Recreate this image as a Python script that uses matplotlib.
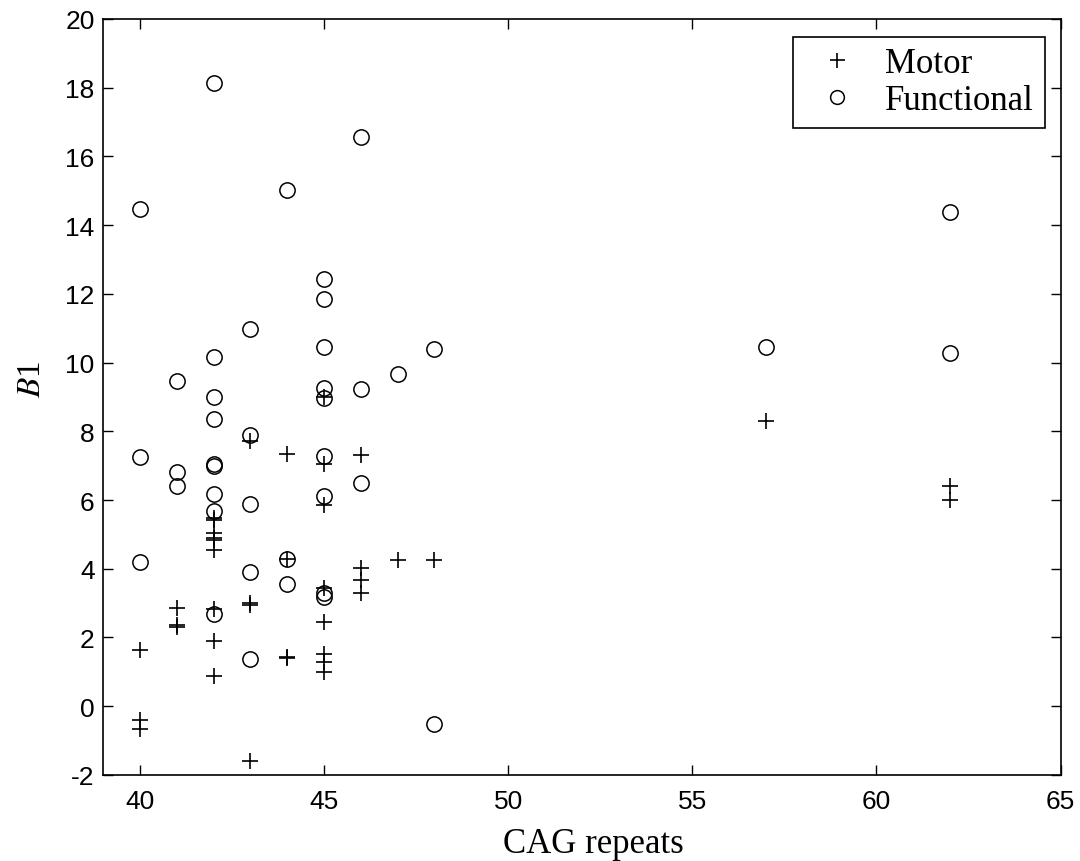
import matplotlib
matplotlib.use('Agg')
import matplotlib.pyplot as plt

# Motor (+) points
motor_x = [40, 40, 40,
           41, 41, 41,
           42, 42, 42, 42, 42, 42, 42, 42, 42,
           43, 43, 43, 43,
           44, 44, 44, 44,
           45, 45, 45, 45, 45, 45, 45, 45,
           46, 46, 46, 46,
           47, 48, 57, 62, 62]
motor_y = [1.65, -0.41, -0.66,
           2.87, 2.30, 2.35,
           5.42, 5.05, 4.89, 4.84, 4.55, 2.83, 1.90, 0.88, 5.47,
           7.71, 2.95, 3.00, -1.58,
           7.34, 4.27, 1.40, 1.43,
           9.00, 7.05, 5.85, 3.45, 2.46, 1.51, 1.30, 1.01,
           7.32, 4.03, 3.67, 3.30,
           4.25, 4.25, 8.29, 6.40, 6.00]

# Functional (o) points
func_x = [40, 40, 40,
          41, 41, 41,
          42, 42, 42, 42, 42, 42, 42, 42, 42,
          43, 43, 43, 43, 43,
          44, 44, 44,
          45, 45, 45, 45, 45, 45, 45, 45, 45,
          46, 46, 46,
          47, 48, 48, 57, 62, 62]
func_y = [14.47, 7.24, 4.21,
          9.45, 6.81, 6.42,
          18.13, 10.17, 9.00, 8.36, 7.04, 6.98, 6.17, 5.69, 2.67,
          10.98, 7.90, 5.88, 3.90, 1.38,
          15.01, 4.27, 3.57,
          12.43, 11.84, 10.44, 9.25, 8.98, 7.28, 6.11, 3.30, 3.18,
          16.57, 9.24, 6.50,
          9.68, 10.38, -0.52, 10.46, 14.37, 10.28]

plt.rcParams['mathtext.fontset'] = 'stix'
plt.rcParams['axes.unicode_minus'] = False

fig = plt.figure(figsize=(10.8, 8.62), dpi=100)
ax = fig.add_axes([0.0954, 0.0998, 0.8866, 0.8772])

ax.plot(motor_x, motor_y, '+', color='black', markersize=12, markeredgewidth=1.2,
        linestyle='none', label='Motor')
ax.plot(func_x, func_y, 'o', color='black', markerfacecolor='none', markersize=11,
        markeredgewidth=1.1, linestyle='none', label='Functional')

ax.set_xlim(39, 65)
ax.set_ylim(-2, 20)
ax.set_xticks([40, 45, 50, 55, 60, 65])
ax.set_yticks(range(-2, 21, 2))
ax.tick_params(direction='in', length=7, width=1, top=True, right=True, labelsize=19)
ax.tick_params(axis='x', pad=10)
ax.tick_params(axis='y', pad=6)
for lab in ax.get_xticklabels() + ax.get_yticklabels():
    lab.set_fontfamily('Liberation Sans')
for sp in ax.spines.values():
    sp.set_linewidth(1.2)

ax.set_xlabel('CAG repeats', fontsize=25, fontfamily='Liberation Serif')
ax.xaxis.set_label_coords(0.5125, -0.069)
ax.set_ylabel(r'$B$1', fontsize=24, fontfamily='Liberation Serif')
ax.yaxis.set_label_coords(-0.059, 0.524)

leg = ax.legend(loc='upper right', prop={'family': 'Liberation Serif', 'size': 25},
                fancybox=False, edgecolor='black', framealpha=1, handletextpad=0.45,
                borderpad=0.3, labelspacing=0.12, handlelength=1.9, markerscale=0.9,
                borderaxespad=0, bbox_to_anchor=(0.9833, 0.9762))
leg.get_frame().set_linewidth(1.2)

fig.savefig('out.png', dpi=100)
